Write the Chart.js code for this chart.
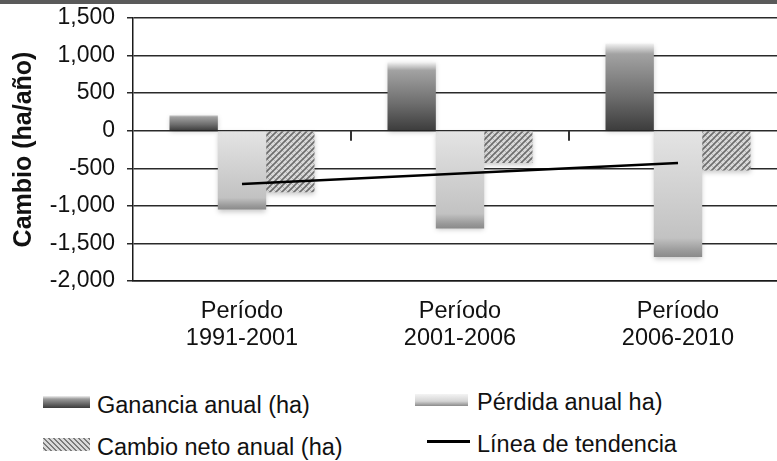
<!DOCTYPE html>
<html>
<head>
<meta charset="utf-8">
<script src="https://cdn.jsdelivr.net/npm/chart.js@4"></script>
<style>
  html, body { margin: 0; padding: 0; background: #fff; }
  body { width: 777px; height: 461px; overflow: hidden; position: relative; font-family: "Liberation Sans", Arial, sans-serif; }
  #band { position: absolute; left: 0; top: 0; width: 777px; height: 4px; background: #5a5a5a; z-index: 2; }
  #wrap { position: absolute; left: 0; top: 0; width: 790px; height: 350px; }
  .lg { position: absolute; font-size: 23.5px; line-height: 23px; color: #111; white-space: nowrap; }
  .ico { position: absolute; }
</style>
</head>
<body>
<div id="band"></div>
<div id="wrap"><canvas id="chart"></canvas></div>
<div id="legend"></div>
<script>
const categories = [['Período', '1991-2001'], ['Período', '2001-2006'], ['Período', '2006-2010']];
const ganancia = [210, 910, 1160];
const perdida = [-1050, -1300, -1680];
const cambioNeto = [-820, -430, -530];
const tendencia = [-710, null, -430];
const seriesLabels = ['Ganancia anual (ha)', 'Pérdida anual ha)', 'Cambio neto anual (ha)', 'Línea de tendencia'];
const yMin = -2000, yMax = 1500, yStep = 500;

// hatch pattern for the net change bars
const hatchCanvas = document.createElement('canvas');
hatchCanvas.width = 6; hatchCanvas.height = 6;
const hc = hatchCanvas.getContext('2d');
hc.fillStyle = '#dadada';
hc.fillRect(0, 0, 6, 6);
hc.strokeStyle = '#b4b4b4';
hc.lineWidth = 1;
hc.beginPath(); hc.moveTo(0, 0); hc.lineTo(6, 6); hc.stroke();
hc.strokeStyle = '#6e6e6e';
hc.lineWidth = 1.6;
hc.beginPath();
hc.moveTo(0, 6); hc.lineTo(6, 0);
hc.moveTo(-3, 3); hc.lineTo(3, -3);
hc.moveTo(3, 9); hc.lineTo(9, 3);
hc.stroke();
const hatch = hc.createPattern(hatchCanvas, 'repeat');

const barGradient = (stops, fallback) => (ctx) => {
    const chart = ctx.chart, y = chart.scales.y;
    if (!chart.chartArea || !y || ctx.raw == null) return fallback;
    const top = y.getPixelForValue(ctx.raw), base = y.getPixelForValue(0);
    const g = chart.ctx.createLinearGradient(0, Math.min(top, base), 0, Math.max(top, base));
    stops.forEach(s => g.addColorStop(s[0], s[1]));
    return g;
};

const ganColor = barGradient([[0, '#f2f2f2'], [0.12, '#a2a2a2'], [0.6, '#6e6e6e'], [1, '#3c3c3c']], '#666');
const perColor = barGradient([[0, '#e4e4e4'], [0.85, '#c2c2c2'], [0.95, '#9a9a9a'], [1, '#8a8a8a']], '#c4c4c4');

const zeroTicks = {
    id: 'zeroTicks',
    afterDatasetsDraw(chart) {
        const x = chart.scales.x, y = chart.scales.y, c = chart.ctx;
        const y0 = y.getPixelForValue(0);
        c.save();
        c.strokeStyle = '#333';
        c.lineWidth = 2;
        for (let i = 0; i < categories.length; i++) {
            const px = Math.round(x.getPixelForValue(i + 0.5));
            c.beginPath(); c.moveTo(px, y0); c.lineTo(px, y0 + 10); c.stroke();
        }
        c.restore();
    }
};

const softShadow = {
    id: 'softShadow',
    beforeDatasetDraw(chart, args) {
        if (chart.data.datasets[args.index].type === 'line') return;
        const c = chart.ctx;
        c.save();
        c.shadowColor = 'rgba(0,0,0,0.22)';
        c.shadowBlur = 5;
        c.shadowOffsetY = 2;
    },
    afterDatasetDraw(chart, args) {
        if (chart.data.datasets[args.index].type === 'line') return;
        chart.ctx.restore();
    }
};

const chart = new Chart(document.getElementById('chart'), {
    type: 'bar',
    data: {
        labels: categories,
        datasets: [
            { label: seriesLabels[3], type: 'line', data: tendencia, spanGaps: true, borderColor: '#000', borderWidth: 2.5, pointRadius: 0, order: 0 },
            { label: seriesLabels[0], data: ganancia, backgroundColor: ganColor, order: 1 },
            { label: seriesLabels[1], data: perdida, backgroundColor: perColor, order: 1 },
            { label: seriesLabels[2], data: cambioNeto, backgroundColor: hatch, order: 1 }
        ]
    },
    options: {
        responsive: true,
        maintainAspectRatio: false,
        animation: false,
        categoryPercentage: 0.665,
        barPercentage: 1,
        layout: { padding: { top: 18, right: 3, left: 0, bottom: 0 } },
        plugins: { legend: { display: false }, tooltip: { enabled: false } },
        scales: {
            x: {
                grid: { display: false, drawTicks: false },
                border: { display: true, color: '#1a1a1a', width: 1.5 },
                ticks: { color: '#111', padding: 17, font: { family: '"Liberation Sans", Arial', size: 23.5, lineHeight: 1.15 } },
                afterFit: (s) => { s.height = 69; s.paddingLeft = 0; s.paddingRight = 0; }
            },
            y: {
                min: yMin, max: yMax,
                ticks: { stepSize: yStep, color: '#111', padding: 12, font: { family: '"Liberation Sans", Arial', size: 23 } },
                grid: { color: '#2a2a2a', lineWidth: 1.5, tickLength: 6 },
                border: { display: true, color: '#1a1a1a', width: 1.5 },
                title: { display: true, text: 'Cambio (ha/año)', color: '#111', padding: 9, font: { family: '"Liberation Sans", Arial', size: 25, weight: 'bold' } },
                afterFit: (s) => { s.width = 133; s.paddingTop = 0; s.paddingBottom = 0; }
            }
        }
    },
    plugins: [softShadow, zeroTicks]
});

// legend laid out in two columns like the original
const legend = document.getElementById('legend');
const legendPos = [
    { label: seriesLabels[0], left: 97, top: 393.5, ico: { left: 43, top: 396, w: 47, h: 12, bg: 'linear-gradient(#f0f0f0 0%, #9a9a9a 25%, #3c3c3c 100%)' } },
    { label: seriesLabels[1], left: 477, top: 390.5, ico: { left: 415, top: 394, w: 53, h: 12, bg: 'linear-gradient(#f4f4f4 0%, #d4d4d4 60%, #8a8a8a 100%)' } },
    { label: seriesLabels[2], left: 97, top: 435.5, ico: { left: 43, top: 438, w: 47, h: 13, bg: 'repeating-linear-gradient(45deg, #dadada 0 2px, #7a7a7a 2px 3.5px)' } },
    { label: seriesLabels[3], left: 477, top: 432.5, line: { left: 427, top: 440, w: 43 } }
];
legendPos.forEach(p => {
    if (p.ico) {
        const d = document.createElement('div');
        d.className = 'ico';
        d.style.cssText = `left:${p.ico.left}px;top:${p.ico.top}px;width:${p.ico.w}px;height:${p.ico.h}px;background:${p.ico.bg};`;
        legend.appendChild(d);
    }
    if (p.line) {
        const d = document.createElement('div');
        d.className = 'ico';
        d.style.cssText = `left:${p.line.left}px;top:${p.line.top}px;width:${p.line.w}px;height:2.5px;background:#000;`;
        legend.appendChild(d);
    }
    const t = document.createElement('div');
    t.className = 'lg';
    t.style.left = p.left + 'px';
    t.style.top = p.top + 'px';
    t.textContent = p.label;
    legend.appendChild(t);
});
</script>
</body>
</html>
